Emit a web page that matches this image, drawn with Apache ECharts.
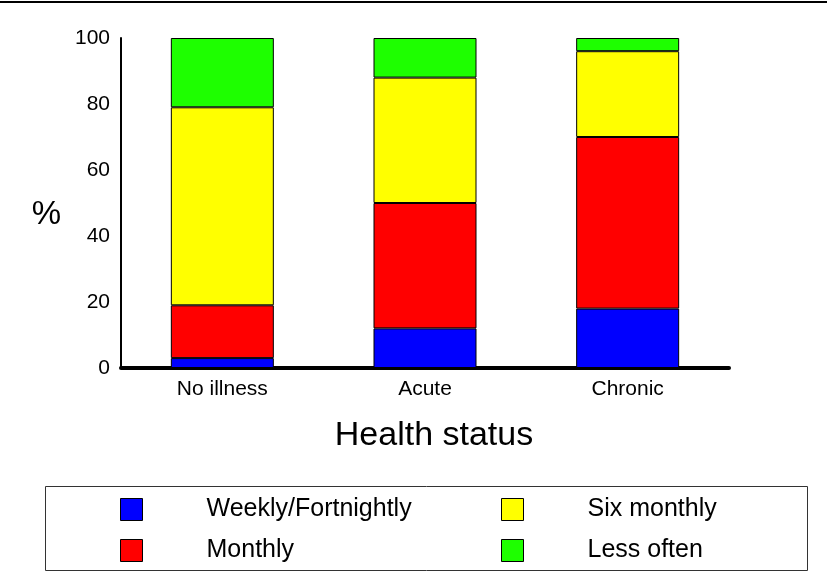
<!DOCTYPE html>
<html>
<head>
<meta charset="utf-8">
<script src="https://cdn.jsdelivr.net/npm/echarts@6/dist/echarts.min.js"></script>
<style>
html,body{margin:0;padding:0;background:#fff;}
#main{width:827px;height:572px;}
</style>
</head>
<body>
<div id="main"></div>
<script>
var categories = ['No illness', 'Acute', 'Chronic'];
var weekly = [3, 12, 18];
var monthly = [16, 38, 52];
var sixMonthly = [60, 38, 26];
var lessOften = [21, 12, 4];
var yTicks = [0, 20, 40, 60, 80, 100];
var seriesNames = ['Weekly/Fortnightly', 'Monthly', 'Six monthly', 'Less often'];
var seriesColors = ['#0000ff', '#ff0000', '#ffff00', '#1eff00'];
var seriesData = [weekly, monthly, sixMonthly, lessOften];

var FONT = 'Liberation Sans, Arial, sans-serif';
var chart = echarts.init(document.getElementById('main'), null, {renderer: 'canvas'});

var series = seriesNames.map(function (n, i) {
  return {
    name: n,
    type: 'bar',
    stack: 'total',
    barWidth: 103,
    data: seriesData[i],
    itemStyle: {color: seriesColors[i], borderColor: '#000', borderWidth: 1},
    emphasis: {disabled: true}
  };
});

// legend positions (one legend component per item, laid out in 2 columns)
var legendLefts = [120, 120, 501, 501];
var legendTops = [497, 538, 497, 538];
var legends = seriesNames.map(function (n, i) {
  return {
    data: [n],
    left: legendLefts[i],
    top: legendTops[i],
    padding: 0,
    icon: 'rect',
    itemWidth: 22,
    itemHeight: 22,
    selectedMode: false,
    itemStyle: {borderColor: '#000', borderWidth: 1},
    textStyle: {fontFamily: FONT, fontSize: 25, color: '#000', lineHeight: 22, padding: [0, 0, 0, 59]}
  };
});

chart.setOption({
  animation: false,
  backgroundColor: '#fff',
  grid: {left: 121, right: 98, top: 38, bottom: 204, containLabel: false},
  legend: legends,
  xAxis: {
    type: 'category',
    data: categories,
    name: 'Health status',
    nameLocation: 'middle',
    nameGap: 51,
    nameTextStyle: {fontFamily: FONT, fontSize: 34, color: '#000', padding: [0, 0, 0, 18]},
    axisLine: {show: true, lineStyle: {color: '#000', width: 4}},
    axisTick: {show: false},
    axisLabel: {fontFamily: FONT, fontSize: 21, color: '#000', margin: 11},
    splitLine: {show: false}
  },
  yAxis: {
    type: 'value',
    min: yTicks[0],
    max: yTicks[yTicks.length - 1],
    interval: yTicks[1] - yTicks[0],
    name: '%',
    nameLocation: 'middle',
    nameRotate: 0,
    nameGap: 60,
    nameTextStyle: {fontFamily: FONT, fontSize: 33, color: '#000', verticalAlign: 'top', lineHeight: 24},
    axisLine: {show: true, lineStyle: {color: '#000', width: 2}},
    axisTick: {show: false},
    axisLabel: {fontFamily: FONT, fontSize: 21, color: '#000', margin: 11},
    splitLine: {show: false}
  },
  graphic: [
    {type: 'line', shape: {x1: 0, y1: 2, x2: 827, y2: 2}, style: {stroke: '#000', lineWidth: 2}, silent: true},
    {type: 'rect', shape: {x: 45.5, y: 486.5, width: 762, height: 84}, style: {fill: 'none', stroke: '#333', lineWidth: 1}, silent: true}
  ],
  series: series
});
</script>
</body>
</html>
